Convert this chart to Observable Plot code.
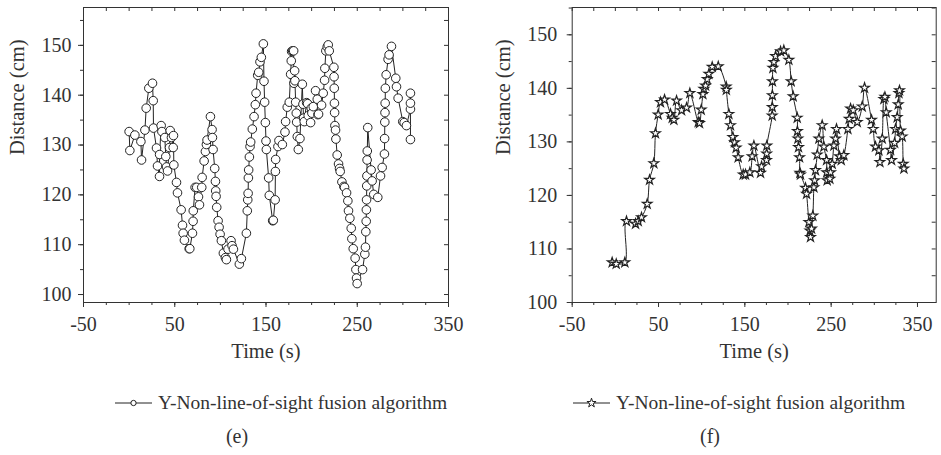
<!DOCTYPE html>
<html><head><meta charset="utf-8">
<script src="https://cdn.jsdelivr.net/npm/d3@7"></script>
<script src="https://cdn.jsdelivr.net/npm/@observablehq/plot@0.6"></script>
<style>
body{margin:0;background:#fff;font-family:"Liberation Serif",serif;color:#333}
#wrap{position:relative;width:941px;height:455px;overflow:hidden;background:#fff}
.panel{position:absolute;top:0}
.leg{position:absolute;font-size:19.5px;white-space:nowrap;display:flex;align-items:center;color:#333;font-family:"Liberation Serif",serif}
.cap{position:absolute;font-size:20px;transform:translateX(-50%);color:#333;font-family:"Liberation Serif",serif}
</style></head><body><div id="wrap"></div>
<script>
// ---- data (e) ----
const leftTime = [0,0.8,6.3,12.9,13.6,17.3,18.7,21.6,25.6,26.4,26.7,30.0,31.1,33.3,33.4,35.1,35.9,39.1,40.2,41.0,42.1,44.2,45.0,46.4,48.3,48.6,49.0,51.9,53.0,57.0,58.5,59.2,60.6,65.8,66.5,69.4,70.1,70.3,72.3,74.1,76.0,77.1,79.6,80.0,82.2,83.6,84.7,85.4,89.1,90.9,91.3,92.0,93.8,94.6,94.9,95.3,96.0,97.5,98.6,99.7,101.1,103.3,105.5,106.6,108.4,111.7,112.8,114.3,120.8,123.0,128.5,129.5,130.0,130.4,130.7,131.0,131.8,132.5,133.2,135.0,136.9,138.3,139.1,140.9,142.0,143.4,144.9,147.1,147.8,148.5,149.3,150.0,150.4,152.9,153.6,157.3,158.0,160.0,160.3,160.6,163.1,164.2,167.9,170.8,171.5,173.3,175.5,177.0,177.7,178.1,179.2,180.3,180.6,181.4,181.7,182.5,183.2,183.6,184.3,185.4,187.2,189.8,190.5,191.2,191.9,194.5,195.6,196.3,198.9,199.6,200.3,201.8,204.3,206.2,206.9,207.6,210.9,212.7,214.2,214.5,215.6,217.1,218.2,219.3,224.4,224.6,224.8,225.0,225.2,225.5,226.2,226.6,228.0,229.5,230.6,231.3,233.2,235.3,236.1,238.3,239.7,240.4,241.9,243.4,244.1,245.6,247.7,248.5,249.2,249.9,255.8,258.3,259.0,259.4,259.8,260.0,260.2,260.4,260.6,260.8,261.0,261.5,265.2,266.3,268.1,272.5,275.5,277.3,279.8,280.0,280.2,280.4,280.6,280.8,281.7,283.8,284.9,287.5,292.2,293.0,294.8,299.9,301.4,303.9,308.3,308.3,308.3,308.3];
const leftDistance = [132.7,128.9,132.0,130.7,127.0,133.0,137.4,141.4,142.4,138.9,133.4,129.4,125.8,123.7,128.1,133.9,132.7,131.5,127.7,125.6,124.8,129.5,132.9,131.5,129.5,131.9,126.0,122.5,120.4,117.0,113.9,112.3,110.9,109.2,109.2,112.3,114.7,116.8,121.5,121.5,119.6,118.0,121.5,123.5,126.8,128.7,130.1,131.0,135.7,133.1,131.5,129.1,125.3,122.7,120.8,119.7,117.5,114.8,113.5,112.1,110.8,108.3,107.4,107.0,109.1,110.8,109.8,109.1,106.1,107.2,112.3,116.8,119.0,120.3,123.4,125.0,127.6,129.7,130.6,133.2,135.7,138.1,140.4,144.0,144.6,146.7,147.6,150.3,142.8,138.6,134.5,130.8,129.1,123.4,119.9,114.8,114.9,119.0,124.7,127.1,129.7,130.9,130.1,132.6,134.7,137.6,138.6,144.2,146.9,148.8,148.9,148.9,142.4,144.9,142.9,138.6,136.4,134.6,131.7,129.1,131.3,142.2,138.2,135.4,134.7,138.5,138.3,135.9,134.5,137.4,136.4,137.7,140.9,139.2,136.1,136.2,138.0,140.4,143.0,145.4,148.9,149.7,150.1,148.9,145.6,143.7,141.4,138.4,136.5,133.9,133.0,131.2,128.0,126.2,125.3,124.7,122.6,121.7,121.5,120.4,118.8,116.8,115.3,113.3,111.2,109.2,107.3,105.0,103.3,102.2,105.0,108.1,109.5,112.6,114.7,117.0,119.0,121.8,123.8,127.0,128.8,133.5,125.0,122.8,120.1,119.5,123.8,125.5,128.2,131.3,134.6,136.5,138.4,141.4,144.1,147.2,148.1,149.8,143.4,141.7,139.4,134.7,134.5,133.9,137.2,138.4,140.4,131.1];

// ---- data (f) ----
const rightTime = [-3.7,1.0,11.0,12.9,23.4,26.5,30.3,36.9,39.6,44.6,46.5,49.6,52.3,57.0,63.9,65.9,67.8,70.9,76.7,82.5,86.3,96.0,97.5,99.5,101.4,102.5,104.5,106.4,108.3,112.2,119.2,128.4,128.6,131.5,133.4,136.1,138.1,140.0,142.3,148.1,150.8,155.8,158.5,160.5,168.2,169.4,175.1,175.3,175.5,181.7,181.8,181.9,182.0,182.5,183.6,185.6,191.4,195.2,201.0,203.7,206.0,210.7,210.9,211.5,212.2,213.4,213.8,214.5,220.3,221.5,224.2,225.4,226.1,227.3,228.8,230.0,230.8,231.9,233.9,235.8,239.6,241.6,244.7,244.9,245.4,248.5,249.3,251.2,253.2,255.1,256.2,259.7,261.7,264.7,269.4,270.9,272.5,275.6,280.2,286.0,288.7,296.8,298.7,301.4,305.3,306.5,309.2,311.1,312.3,313.8,318.8,320.0,323.5,324.6,326.5,327.7,328.5,329.2,330.4,332.3,333.5,334.3];
const rightDistance = [107.5,107.2,107.5,115.2,114.7,115.2,115.9,118.4,122.9,126.0,131.6,135.1,137.4,137.9,135.2,134.5,134.1,137.7,135.9,136.4,139.1,133.7,133.5,136.0,138.9,139.9,140.5,141.7,142.7,144.0,144.1,140.3,139.7,135.2,133.1,130.9,129.9,128.9,127.1,123.9,123.9,124.3,127.3,129.3,124.2,125.4,126.6,127.8,129.3,134.9,136.5,138.7,141.3,143.8,144.9,146.0,146.9,147.1,145.3,141.3,138.5,134.5,132.0,130.6,129.0,127.1,124.2,123.9,121.4,120.3,115.0,113.4,112.2,113.8,116.2,121.5,122.8,124.7,127.6,130.6,133.1,129.1,126.6,124.3,122.8,123.1,124.3,125.9,129.3,130.6,132.4,127.3,126.6,127.5,132.4,134.3,136.2,135.9,133.7,136.6,140.1,134.1,132.4,129.1,128.4,126.2,130.6,138.0,138.4,135.5,128.5,126.6,129.8,132.4,134.6,137.0,139.1,139.6,132.1,131.0,125.9,125.0];

const xTickLabels = [-50, 50, 150, 250, 350];
const yTickLabels = [100, 110, 120, 130, 140, 150];
const xLabel = "Time (s)";
const yLabel = "Distance (cm)";
const legendLabel = "Y-Non-line-of-sight fusion algorithm";
const panelLetters = ["(e)", "(f)"];

const xMinor = d3.range(-50, 376, 25);
const yMinor = d3.range(100, 156, 5);
const FONT = '"Liberation Serif", "Times New Roman", serif';

function panel(o) {
  const fw = o.W - o.ml - o.mr, fh = o.H - o.mt - o.mb;
  const data = o.time.map((t, i) => ({t, v: o.dist[i]}));
  const xm = xMinor.filter(d => d >= o.xDomain[0] && d <= o.xDomain[1]);
  const ym = yMinor.filter(d => d >= o.yDomain[0] && d <= o.yDomain[1]);
  return Plot.plot({
    width: o.W, height: o.H,
    marginLeft: o.ml, marginRight: o.mr, marginTop: o.mt, marginBottom: o.mb,
    x: {domain: o.xDomain}, y: {domain: o.yDomain},
    style: {fontFamily: FONT, fontSize: "20px", color: "#333", background: "transparent", overflow: "visible"},
    marks: [
      Plot.axisX({ticks: xm, tickSize: 3, tickFormat: () => "", label: null}),
      Plot.axisX({ticks: xTickLabels, tickSize: 5, tickPadding: 9, tickFormat: d => String(d), label: null, fontSize: 20}),
      Plot.axisY({ticks: ym, tickSize: 3, tickFormat: () => "", label: null}),
      Plot.axisY({ticks: yTickLabels, tickSize: 5, tickPadding: o.yPad, tickFormat: d => String(d), label: null, fontSize: 20}),
      Plot.tickX(xm, {x: d => d, insetBottom: fh - 4, stroke: "#333"}),
      Plot.tickY(ym, {y: d => d, insetLeft: fw - 4, stroke: "#333"}),
      Plot.frame({stroke: "#333"}),
      Plot.line(data, {x: "t", y: "v", curve: o.curve, stroke: "#222", strokeWidth: 1}),
      Plot.dot(data, {x: "t", y: "v", symbol: o.symbol, r: o.r, fill: "white", stroke: "#222", strokeWidth: o.sw}),
      Plot.text([xLabel], {frameAnchor: "bottom", dy: 55, fontSize: 20.5, fill: "#333"}),
      Plot.text([yLabel], {frameAnchor: "left", dx: o.ylabDx, rotate: -90, fontSize: 20.5, fill: "#333"})
    ]
  });
}

const wrap = document.getElementById("wrap");
const left = panel({W: 470, H: 380, ml: 83, mr: 22, mt: 7, mb: 78, xDomain: [-50, 350], yDomain: [98.4, 157.6],
  time: leftTime, dist: leftDistance, symbol: "circle", r: 4.3, sw: 1, curve: "linear", yPad: 7, ylabDx: -66});
left.classList.add("panel"); left.style.left = "0px";
wrap.appendChild(left);
const right = panel({W: 471, H: 380, ml: 101.7, mr: 5.3, mt: 7, mb: 78, xDomain: [-50, 371.7], yDomain: [100, 155.1],
  time: rightTime, dist: rightDistance, symbol: "star", r: 3.0, sw: 1.2, curve: "catmull-rom", yPad: 10, ylabDx: -69});
right.classList.add("panel"); right.style.left = "470px";
wrap.appendChild(right);

function legend(x, kind) {
  const d = document.createElement("div");
  d.className = "leg"; d.style.left = x + "px"; d.style.top = "392px";
  const ns = "http://www.w3.org/2000/svg";
  const s = document.createElementNS(ns, "svg");
  s.setAttribute("width", 37); s.setAttribute("height", 14);
  const l = document.createElementNS(ns, "line");
  l.setAttribute("x1", 0); l.setAttribute("x2", 37); l.setAttribute("y1", 7); l.setAttribute("y2", 7);
  l.setAttribute("stroke", "#222");
  s.appendChild(l);
  const p = document.createElementNS(ns, "path");
  p.setAttribute("d", kind === "circle" ? d3.symbol(d3.symbolCircle, 22)() : d3.symbol(d3.symbolStar, 26)());
  p.setAttribute("transform", "translate(18.5,7)");
  p.setAttribute("fill", "white"); p.setAttribute("stroke", "#222");
  s.appendChild(p);
  d.appendChild(s);
  const t = document.createElement("span");
  t.style.marginLeft = "6px"; t.textContent = legendLabel;
  d.appendChild(t);
  wrap.appendChild(d);
}
legend(115, "circle");
legend(573, "star");
panelLetters.forEach((txt, i) => {
  const c = document.createElement("div");
  c.className = "cap"; c.textContent = txt;
  c.style.left = (i === 0 ? 237 : 710) + "px"; c.style.top = "425px";
  wrap.appendChild(c);
});
</script></body></html>
